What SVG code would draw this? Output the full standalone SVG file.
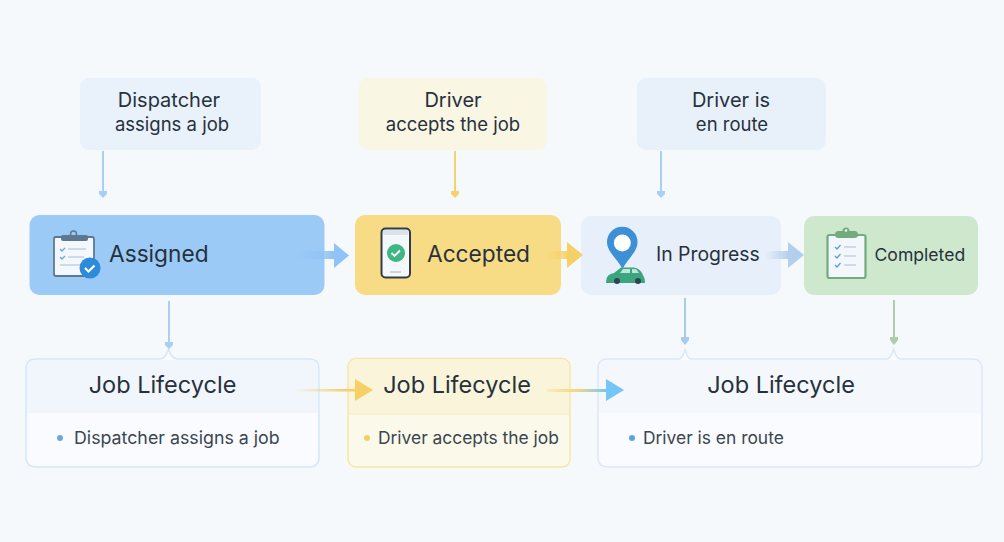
<svg xmlns="http://www.w3.org/2000/svg" width="1004" height="542" viewBox="0 0 1004 542">
<defs>
<style>
text{font-family:"Inter","Liberation Sans",sans-serif;fill:#27313d}
.m{text-anchor:middle}
.note{font-size:18.500px}
.note1{font-size:20px}
.title{font-size:23.500px;text-anchor:middle}
.bul{font-size:17.400px;fill:#3a4652}
.st{font-size:22.700px}
</style>
<linearGradient id="a1" x1="0" x2="1"><stop offset="0" stop-color="#8fc2f5" stop-opacity="0"/><stop offset=".7" stop-color="#8fc2f5"/></linearGradient>
<linearGradient id="a2" x1="0" x2="1"><stop offset="0" stop-color="#f6cf67" stop-opacity="0"/><stop offset=".6" stop-color="#f6cf67"/></linearGradient>
<linearGradient id="a3" x1="0" x2="1"><stop offset="0" stop-color="#b3cfee" stop-opacity="0"/><stop offset=".6" stop-color="#b3cfee"/></linearGradient>
<linearGradient id="l1" x1="0" x2="1"><stop offset="0" stop-color="#f6cf67" stop-opacity="0"/><stop offset=".8" stop-color="#f6cf67"/></linearGradient>
<linearGradient id="l2" x1="0" x2="1"><stop offset="0" stop-color="#f6cf67" stop-opacity=".2"/><stop offset=".5" stop-color="#f6d77e"/><stop offset="1" stop-color="#74c6f5"/></linearGradient>
</defs>
<rect width="1004" height="542" fill="#f6f9fc"/>

<g id="note-dispatcher"><rect x="80" y="78" width="181" height="72" rx="9" fill="#e9f1fa"/><text class="note1 m" x="169" y="106.500">Dispatcher</text><text class="note m" x="172" y="131">assigns a job</text></g>
<g id="note-driver-accepts"><rect x="359" y="78" width="188" height="72" rx="9" fill="#f9f6e3"/><text class="note1 m" x="453" y="106.500">Driver</text><text class="note m" x="453" y="131">accepts the job</text></g>
<g id="note-driver-route"><rect x="637" y="78" width="189" height="72" rx="9" fill="#e8f1fa"/><text class="note1 m" x="731" y="106.500">Driver is</text><text class="note m" x="732" y="131">en route</text></g>

<g id="state-assigned">
<rect x="29.500" y="215" width="295" height="80" rx="10" fill="#9bcaf6"/>
<g>
<rect x="54" y="237" width="40" height="39" rx="2" fill="#f4f7fb" stroke="#5c7891" stroke-width="1.800"/>
<rect x="61" y="235" width="27" height="6" rx="2" fill="#5c7891"/><circle cx="73.500" cy="234" r="3" fill="none" stroke="#5c7891" stroke-width="1.500"/>
<g stroke="#b7cfe6" stroke-width="1.400"><line x1="68" y1="249" x2="86" y2="249"/><line x1="68" y1="257" x2="84" y2="257"/><line x1="60" y1="265" x2="80" y2="265"/></g>
<path d="M60 249l2 2 3-3M60 257l2 2 3-3" fill="none" stroke="#69a9e3" stroke-width="1.400"/>
<circle cx="90" cy="268" r="10.500" fill="#2d8bdc"/><path d="M85 268l3.500 3.500 6-6" fill="none" stroke="#fff" stroke-width="2.200"/>
</g>
<text class="st" x="109" y="262">Assigned</text>
</g>

<g id="state-accepted">
<rect x="355" y="215" width="206" height="80" rx="10" fill="#f8dc85"/>
<g>
<rect x="381.500" y="228.500" width="28.500" height="49" rx="4" fill="#f5f8fb" stroke="#323c48" stroke-width="2"/>
<rect x="383" y="230" width="25.500" height="5" rx="2" fill="#dbe3ea"/>
<circle cx="396" cy="253" r="9" fill="#3fb683"/><path d="M391.500 253l3 3 5.500-5.500" fill="none" stroke="#fff" stroke-width="1.800"/>
<line x1="390" y1="272" x2="401" y2="272" stroke="#b2bcc6" stroke-width="1.200"/>
</g>
<text class="st" x="427" y="262">Accepted</text>
</g>

<g id="state-progress">
<rect x="581" y="216" width="200" height="79" rx="10" fill="#e7f0fa"/>
<g>
<path d="M622.500 269C617 258 607 252 607 242A15 15 0 0 1 637.500 242C637.500 252 628 258 622.500 269Z" fill="#3d8fd6"/>
<circle cx="622.300" cy="243" r="8.500" fill="#fff"/>
<path d="M606 282Q606 274 614 273L621 267.500H634Q640 268 643 275Q645 278 645 283H606Z" fill="#3ca57f"/>
<path d="M623 269L620 273H630V269ZM632 269V273H639L636 269Z" fill="#bfe5da"/>
<circle cx="617" cy="281" r="3" fill="#2c4650"/><circle cx="638" cy="281" r="3" fill="#2c4650"/>
</g>
<text class="st" x="656" y="261" style="font-size:19.400px">In Progress</text>
</g>

<g id="state-completed">
<rect x="804" y="216" width="174" height="79" rx="10" fill="#cde8cd"/>
<g>
<rect x="827.500" y="235" width="38" height="43" rx="2" fill="#f3f7fb" stroke="#72ab7d" stroke-width="2.200"/>
<rect x="835" y="231" width="23" height="7" rx="3.500" fill="#72ab7d"/>
<circle cx="846" cy="231" r="3.500" fill="#72ab7d"/>
<circle cx="846" cy="230.500" r="1.300" fill="#f3f7fb"/>
<path d="M835 247l2 2 3.500-4M835 256l2 2 3.500-4M835 265l2 2 3.500-4" fill="none" stroke="#5b9ce0" stroke-width="1.300"/>
<g stroke="#bfcfe2" stroke-width="1.400"><line x1="844" y1="247" x2="856" y2="247"/><line x1="844" y1="256" x2="856" y2="256"/><line x1="844" y1="265" x2="856" y2="265"/></g>
</g>
<text class="st" x="874.500" y="261" style="font-size:17.600px">Completed</text>
</g>

<g id="card-dispatcher">
<path d="M36 359H160Q166 358 168.500 349Q171 358 177 359H309Q319 359 319 369V457Q319 467 309 467H36Q26 467 26 457V369Q26 359 36 359Z" fill="#f9fbfe" stroke="#d5e7f7" stroke-width="1.500"/>
<path d="M27 369Q27 360 36 360H309Q318 360 318 369V413H27Z" fill="#f1f6fc"/>
<text class="title" x="162.500" y="393">Job Lifecycle</text>
<circle cx="60" cy="438" r="3" fill="#6aa9e0"/>
<text class="bul" x="74" y="444" style="font-size:17.800px">Dispatcher assigns a job</text>
</g>
<g id="card-driver">
<rect x="348" y="358.500" width="222" height="108.500" rx="8" fill="#fbf9ea" stroke="#f8e5a5" stroke-width="1.500"/>
<path d="M349 366Q349 359.500 356 359.500H562Q569 359.500 569 366V414H349Z" fill="#faf5da"/>
<line x1="349" y1="414" x2="569" y2="414" stroke="#f6ecbf" stroke-width="1.200"/>
<text class="title" x="457" y="393">Job Lifecycle</text>
<circle cx="367" cy="438" r="3" fill="#f3cd66"/>
<text class="bul" x="378" y="444">Driver accepts the job</text>
</g>
<g id="card-route">
<path d="M608 359H679Q683 358 685 349Q687 358 691 359H887Q891 358 893.500 349Q896 358 900 359H972Q982 359 982 369V457Q982 467 972 467H608Q598 467 598 457V369Q598 359 608 359Z" fill="#f9fbfe" stroke="#dbe8f5" stroke-width="1.500"/>
<path d="M599 369Q599 360 608 360H972Q981 360 981 369V413H599Z" fill="#f4f7fc"/>
<text class="title" x="781" y="393">Job Lifecycle</text>
<circle cx="632" cy="438" r="3" fill="#5ea5df"/>
<text class="bul" x="643" y="444">Driver is en route</text>
</g>

<g id="connectors">
<g stroke-width="2" fill="none">
<line x1="103" y1="151" x2="103" y2="193" stroke="#a9d0f4"/>
<line x1="455" y1="151" x2="455" y2="193" stroke="#f6d26e"/>
<line x1="661" y1="151" x2="661" y2="193" stroke="#a9d0f4"/>
<line x1="169" y1="301" x2="169" y2="343" stroke="#a9d0f4"/>
<line x1="685" y1="298" x2="685" y2="338" stroke="#a7cbec"/>
<line x1="894" y1="300" x2="894" y2="338" stroke="#aecbab"/>
</g>
<path d="M99 191H107V194L103 198L99 194Z" fill="#a9d0f4"/>
<path d="M451 191H459V194L455 198L451 194Z" fill="#f6d26e"/>
<path d="M657 191H665V194L661 198L657 194Z" fill="#a9d0f4"/>
<path d="M165 342H173V345L169 349L165 345Z" fill="#a9d0f4"/>
<path d="M681 337H689V340L685 345L681 340Z" fill="#a7cbec"/>
<path d="M890 337H898V340L894 345L890 340Z" fill="#aecbab"/>
<path d="M296 251H334V243L349 255.500L334 268V259H296Z" fill="url(#a1)"/>
<path d="M545 251H567V242L583 255L567 268V259H545Z" fill="url(#a2)"/>
<path d="M765 251H788V242L804 255L788 268V259H765Z" fill="url(#a3)"/>
<rect x="295" y="389" width="62" height="2.500" fill="url(#l1)"/>
<path d="M355 379L373 390L355 401Z" fill="#f6cf67"/>
<rect x="547" y="389" width="60" height="3" fill="url(#l2)"/>
<path d="M606 379L624 390L606 401Z" fill="#74c6f5"/>
</g>
</svg>
